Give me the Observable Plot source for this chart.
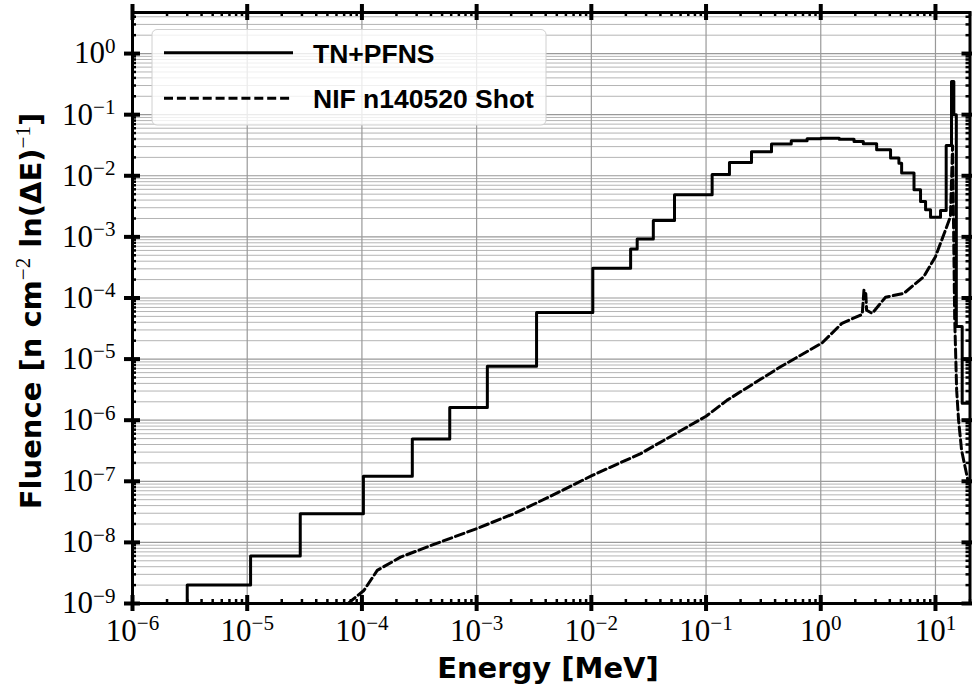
<!DOCTYPE html>
<html><head><meta charset="utf-8">
<script src="https://cdn.jsdelivr.net/npm/d3@7"></script>
<script src="https://cdn.jsdelivr.net/npm/@observablehq/plot@0.6"></script>
<style>body{margin:0;background:#fff}</style>
</head><body><div id="chart"></div>
<script>
// ---- data ----
const xDomain = [1e-6, 20];
const yDomain = [1e-9, 4.7];
const xTickExps = [-6, -5, -4, -3, -2, -1, 0, 1];
const yTickExps = [-9, -8, -7, -6, -5, -4, -3, -2, -1, 0];
const seriesNames = ["TN+PFNS", "NIF n140520 Shot"];
const xTitle = "Energy [MeV]";

// TN+PFNS group-wise histogram: bin edges (MeV) and fluence per bin
const tnEdges = [3.0e-6, 1.07e-5, 2.9e-5, 1.03e-4, 2.75e-4, 5.83e-4, 1.24e-3, 3.33e-3, 1.03e-2,
  2.2e-2, 2.51e-2, 3.47e-2, 5.31e-2, 0.113, 0.160, 0.249, 0.372, 0.553, 0.76, 1.0, 1.45, 1.95,
  2.35, 3.07, 4.06, 4.8, 5.07, 6.5, 7.41, 8.2, 9.06, 11.07, 12.4, 13.8, 14.46, 15.2, 17.1, 20];
const tnValues = [2.0e-9, 6.0e-9, 2.95e-8, 1.21e-7, 4.93e-7, 1.61e-6, 7.6e-6, 5.8e-5, 3.07e-4,
  6.35e-4, 9.27e-4, 1.85e-3, 4.89e-3, 1.05e-2, 1.65e-2, 2.47e-2, 3.31e-2, 3.75e-2, 4.02e-2,
  4.10e-2, 3.95e-2, 3.65e-2, 3.35e-2, 2.67e-2, 1.95e-2, 1.61e-2, 1.11e-2, 5.9e-3, 3.8e-3,
  2.77e-3, 2.1e-3, 2.7e-3, 3.14e-2, 0.35, 0.10, 3.4e-5, 1.9e-6];

// NIF n140520 shot spectrum
const nifEnergy = [7.6e-5, 8.5e-5, 1.04e-4, 1.36e-4, 2.17e-4, 4.24e-4, 1.0e-3, 2.11e-3, 4.27e-3,
  1.02e-2, 2.69e-2, 0.1, 0.153, 0.446, 1.03, 1.53, 2.30, 2.38, 2.47, 2.51, 2.81, 3.67, 5.30,
  7.91, 10.0, 11.8, 13.5, 14.1, 14.7, 15.3, 15.9, 16.9, 19.4];
const nifFluence = [1.0e-9, 1.2e-9, 1.63e-9, 3.48e-9, 5.74e-9, 9.27e-9, 1.68e-8, 2.95e-8, 5.53e-8,
  1.25e-7, 2.84e-7, 1.16e-6, 2.13e-6, 7.48e-6, 1.85e-5, 3.85e-5, 5.41e-5, 1.35e-4, 1.17e-4,
  6.3e-5, 5.61e-5, 1.03e-4, 1.19e-4, 2.23e-4, 4.75e-4, 1.08e-3, 2.15e-3, 3.1e-2, 4.9e-5,
  3.1e-6, 1.0e-6, 3.2e-7, 9.3e-8];

// ---- derived tables ----
const majorX = xTickExps.map(e => 10 ** e);
const majorY = yTickExps.map(e => 10 ** e);
const mult = [2, 3, 4, 5, 6, 7, 8, 9];
const minorX = majorX.flatMap(v => mult.map(k => k * v)).filter(v => v <= xDomain[1]);
const minorY = majorY.flatMap(v => mult.map(k => k * v)).filter(v => v <= yDomain[1]);

const tnData = [{x: tnEdges[0], y: yDomain[0]}]
  .concat(tnValues.map((v, i) => ({x: tnEdges[i], y: v})))
  .concat([{x: tnEdges[tnEdges.length - 1], y: tnValues[tnValues.length - 1]}]);
const nifData = nifEnergy.map((e, i) => ({x: e, y: nifFluence[i]}));

const fmt = d => "10^" + Math.round(Math.log10(d));
const labelFont = "'Liberation Serif', 'DejaVu Serif', serif";

const chart = Plot.plot({
  width: 972,
  height: 691,
  marginLeft: 132,
  marginRight: 2.5,
  marginTop: 12,
  marginBottom: 88,
  style: {background: "white", color: "black"},
  x: {type: "log", domain: xDomain},
  y: {type: "log", domain: yDomain},
  marks: [
    Plot.gridY(minorY, {stroke: "#b4b4b4", strokeOpacity: 1, strokeWidth: 1}),
    Plot.gridY(majorY, {stroke: "#999", strokeOpacity: 1, strokeWidth: 1.2}),
    Plot.gridX(majorX, {stroke: "#999", strokeOpacity: 1, strokeWidth: 1.2}),
    Plot.line(tnData, {x: "x", y: "y", curve: "step-after", stroke: "black", strokeWidth: 3, clip: true}),
    Plot.line(nifData, {x: "x", y: "y", stroke: "black", strokeWidth: 3, strokeDasharray: "9,4", clip: true}),
    Plot.frame({stroke: "black", strokeWidth: 3}),
    // major ticks (in-out) on all four sides
    Plot.ruleX(majorX, {x: d => d, y1: yDomain[0], y2: yDomain[0], insetTop: -8, insetBottom: -8, strokeWidth: 4}),
    Plot.ruleX(majorX, {x: d => d, y1: yDomain[1], y2: yDomain[1], insetTop: -8, insetBottom: -8, strokeWidth: 4}),
    Plot.ruleY(majorY, {y: d => d, x1: xDomain[0], x2: xDomain[0], insetLeft: -8, insetRight: -8, strokeWidth: 4}),
    Plot.ruleY(majorY, {y: d => d, x1: xDomain[1], x2: xDomain[1], insetLeft: -8, insetRight: -8, strokeWidth: 4}),
    // minor ticks (inward)
    Plot.ruleX(minorX, {x: d => d, y1: yDomain[0], y2: yDomain[0], insetTop: -4, insetBottom: 0, strokeWidth: 2.5}),
    Plot.ruleX(minorX, {x: d => d, y1: yDomain[1], y2: yDomain[1], insetTop: 0, insetBottom: -4, strokeWidth: 2.5}),
    Plot.ruleY(minorY, {y: d => d, x1: xDomain[0], x2: xDomain[0], insetLeft: 0, insetRight: -4, strokeWidth: 2.5}),
    Plot.ruleY(minorY, {y: d => d, x1: xDomain[1], x2: xDomain[1], insetLeft: -4, insetRight: 0, strokeWidth: 2.5}),
    Plot.axisX(majorX, {anchor: "bottom", tickSize: 0, tickPadding: 15, tickFormat: fmt, fontSize: 31, fontFamily: labelFont, label: null}),
    Plot.axisY(majorY, {anchor: "left", tickSize: 0, tickPadding: 17, tickFormat: fmt, fontSize: 31, fontFamily: labelFont, label: null})
  ]
});

// turn "10^-5" labels into 10 with a superscript exponent
d3.select(chart).selectAll('g[aria-label="x-axis tick label"] text, g[aria-label="y-axis tick label"] text').each(function() {
  const t = this.textContent;
  const parts = t.split("^");
  if (parts.length !== 2) return;
  const sel = d3.select(this);
  sel.text(parts[0]);
  sel.append("tspan").attr("dy", "-0.5em").attr("font-size", "0.68em").text(parts[1].replace("-", "\u2212"));
});

const svg = d3.select(chart);
// axis titles
svg.append("text")
  .attr("x", 548).attr("y", 678)
  .attr("text-anchor", "middle")
  .attr("font-family", "'DejaVu Sans', sans-serif").attr("font-weight", "bold").attr("font-size", 29)
  .attr("fill", "black")
  .text(xTitle);
const yt = svg.append("text")
  .attr("transform", "translate(41,311) rotate(-90)")
  .attr("text-anchor", "middle")
  .attr("font-family", "'DejaVu Sans', sans-serif").attr("font-weight", "bold").attr("font-size", 29)
  .attr("fill", "black");
yt.append("tspan").text("Fluence [n cm");
yt.append("tspan").attr("dy", -11).attr("font-size", 21).attr("font-weight", "normal").attr("font-family", labelFont).text("\u22122");
yt.append("tspan").attr("dy", 11).text(" ln(\u0394E)");
yt.append("tspan").attr("dy", -11).attr("font-size", 21).attr("font-weight", "normal").attr("font-family", labelFont).text("\u22121");
yt.append("tspan").attr("dy", 11).text("]");

// legend
const lg = svg.append("g");
lg.append("rect").attr("x", 152).attr("y", 29.5).attr("width", 394).attr("height", 95.5)
  .attr("rx", 5).attr("fill", "white").attr("fill-opacity", 0.8).attr("stroke", "#d0d0d0").attr("stroke-width", 1);
const entries = [{y: 52.7, dash: null}, {y: 98.3, dash: "9,3.9"}];
entries.forEach((e, i) => {
  const ln = lg.append("line").attr("x1", 164).attr("x2", 293).attr("y1", e.y).attr("y2", e.y)
    .attr("stroke", "black").attr("stroke-width", 3);
  if (e.dash) ln.attr("stroke-dasharray", e.dash);
  lg.append("text").attr("x", 313).attr("y", e.y + 10)
    .attr("text-anchor", "start")
    .attr("font-family", "'Liberation Sans', Arial, sans-serif").attr("font-weight", "bold").attr("font-size", 26.5)
    .attr("fill", "black").text(seriesNames[i]);
});

document.getElementById("chart").append(chart);
</script>
</body></html>
